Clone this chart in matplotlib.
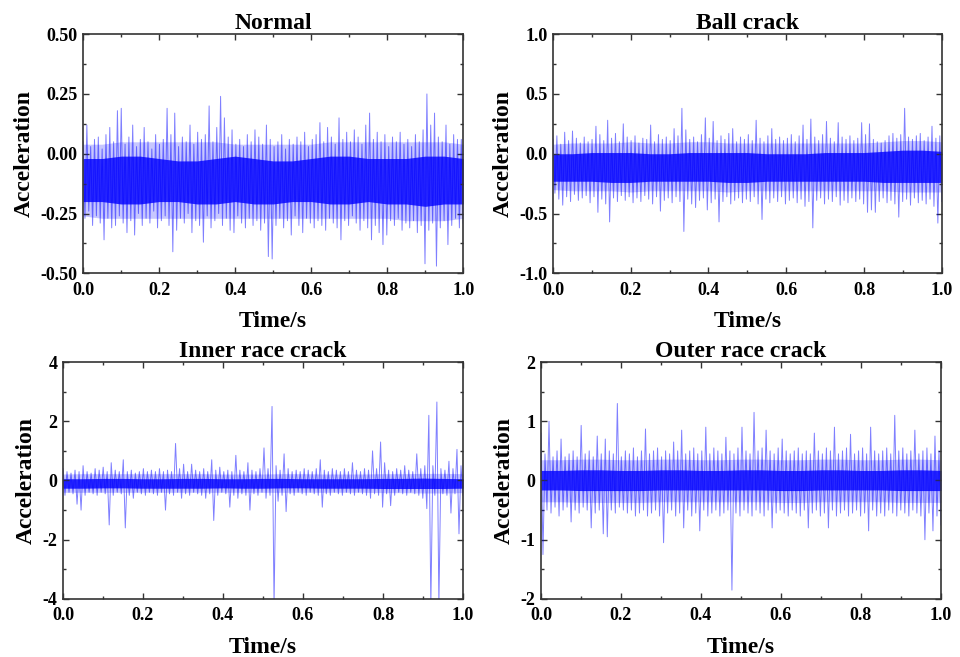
import matplotlib
matplotlib.use("Agg")
import matplotlib.pyplot as plt
import matplotlib.ticker as mticker
import numpy as np

plt.rcParams['font.family'] = ['Liberation Serif', 'DejaVu Serif']
plt.rcParams['font.weight'] = 'bold'
plt.rcParams['axes.unicode_minus'] = False

# ---- data ----
# spike tips every 0.01 s, dense core band and lighter halo every 0.05 s
titles = ["Normal", "Ball crack", "Inner race crack", "Outer race crack"]

normal_peaks = [0.05, 0.12, 0.03, 0.06, 0.07, 0.02, 0.08, 0.11, 0.05, 0.18,
                0.19, 0.04, 0.07, 0.12, 0.03, 0.06, 0.11, 0.05, 0.02, 0.08,
                0.04, 0.06, 0.19, 0.08, 0.17, 0.03, 0.07, 0.05, 0.12, 0.04,
                0.09, 0.06, 0.08, 0.20, 0.05, 0.11, 0.24, 0.15, 0.07, 0.10,
                0.04, 0.06, 0.03, 0.08, 0.05, 0.10, 0.07, 0.04, 0.12, 0.06,
                0.03, 0.05, 0.08, 0.02, 0.06, 0.04, 0.07, 0.05, 0.09, 0.03,
                0.06, 0.08, 0.13, 0.05, 0.11, 0.07, 0.04, 0.15, 0.06, 0.09,
                0.05, 0.10, 0.07, 0.04, 0.12, 0.17, 0.06, 0.09, 0.05, 0.08,
                0.03, 0.07, 0.05, 0.09, 0.04, 0.06, 0.03, 0.08, 0.05, 0.10,
                0.25, 0.12, 0.17, 0.07, 0.05, 0.12, 0.04, 0.08, 0.06, 0.06]
normal_troughs = [-0.27, -0.24, -0.30, -0.26, -0.29, -0.36, -0.27, -0.31, -0.30, -0.26,
                  -0.29, -0.33, -0.28, -0.34, -0.25, -0.30, -0.27, -0.29, -0.24, -0.31,
                  -0.28, -0.26, -0.30, -0.41, -0.32, -0.27, -0.29, -0.25, -0.33, -0.28,
                  -0.30, -0.37, -0.26, -0.31, -0.28, -0.25, -0.30, -0.27, -0.32, -0.33,
                  -0.26, -0.29, -0.31, -0.27, -0.30, -0.28, -0.32, -0.29, -0.43, -0.44,
                  -0.30, -0.27, -0.31, -0.28, -0.34, -0.26, -0.30, -0.33, -0.27, -0.29,
                  -0.31, -0.28, -0.30, -0.32, -0.27, -0.29, -0.31, -0.36, -0.28, -0.30,
                  -0.26, -0.29, -0.32, -0.28, -0.31, -0.36, -0.30, -0.33, -0.38, -0.34,
                  -0.28, -0.30, -0.27, -0.32, -0.29, -0.31, -0.28, -0.33, -0.30, -0.46,
                  -0.32, -0.29, -0.47, -0.31, -0.28, -0.38, -0.30, -0.27, -0.31, -0.29]
normal_core_hi = [-0.02, -0.02, -0.01, -0.01, -0.02, -0.03, -0.03, -0.02, -0.01, -0.02, -0.03,
                  -0.03, -0.02, -0.01, -0.01, -0.02, -0.02, -0.02, -0.01, -0.01, -0.02]
normal_core_lo = [-0.20, -0.20, -0.21, -0.21, -0.20, -0.20, -0.21, -0.21, -0.20, -0.21, -0.21,
                  -0.20, -0.20, -0.21, -0.21, -0.20, -0.21, -0.21, -0.22, -0.21, -0.21]
normal_halo_hi = [0.04, 0.04, 0.05, 0.05, 0.05, 0.05, 0.05, 0.05, 0.04, 0.04, 0.04,
                  0.04, 0.04, 0.05, 0.05, 0.05, 0.05, 0.05, 0.05, 0.05, 0.04]
normal_halo_lo = [-0.26, -0.27, -0.27, -0.27, -0.27, -0.27, -0.27, -0.27, -0.27, -0.27, -0.27,
                  -0.27, -0.27, -0.27, -0.27, -0.27, -0.27, -0.28, -0.28, -0.28, -0.27]

ball_peaks = [0.12, 0.15, 0.08, 0.18, 0.11, 0.19, 0.13, 0.09, 0.14, 0.10,
              0.12, 0.23, 0.16, 0.11, 0.28, 0.13, 0.17, 0.10, 0.25, 0.14,
              0.11, 0.15, 0.09, 0.13, 0.12, 0.24, 0.10, 0.16, 0.12, 0.14,
              0.11, 0.21, 0.15, 0.38, 0.20, 0.12, 0.14, 0.10, 0.16, 0.30,
              0.13, 0.27, 0.11, 0.15, 0.12, 0.17, 0.21, 0.10, 0.14, 0.12,
              0.16, 0.11, 0.28, 0.13, 0.10, 0.15, 0.21, 0.12, 0.14, 0.11,
              0.13, 0.16, 0.10, 0.15, 0.24, 0.12, 0.29, 0.14, 0.11, 0.16,
              0.27, 0.13, 0.10, 0.26, 0.14, 0.12, 0.15, 0.11, 0.13, 0.26,
              0.16, 0.25, 0.12, 0.10, 0.09, 0.11, 0.15, 0.17, 0.13, 0.16,
              0.38, 0.14, 0.12, 0.15, 0.17, 0.11, 0.14, 0.23, 0.13, 0.15]
ball_troughs = [-0.33, -0.38, -0.43, -0.36, -0.40, -0.34, -0.39, -0.37, -0.35, -0.41,
                -0.36, -0.49, -0.38, -0.42, -0.57, -0.37, -0.40, -0.35, -0.39, -0.36,
                -0.41, -0.37, -0.40, -0.35, -0.38, -0.42, -0.36, -0.48, -0.39, -0.37,
                -0.41, -0.36, -0.40, -0.65, -0.38, -0.42, -0.45, -0.39, -0.37, -0.47,
                -0.41, -0.38, -0.57, -0.40, -0.36, -0.42, -0.39, -0.37, -0.41, -0.38,
                -0.40, -0.36, -0.42, -0.55, -0.38, -0.41, -0.37, -0.40, -0.36, -0.42,
                -0.39, -0.37, -0.41, -0.38, -0.44, -0.40, -0.62, -0.39, -0.37, -0.42,
                -0.38, -0.40, -0.36, -0.43, -0.39, -0.41, -0.37, -0.40, -0.38, -0.42,
                -0.49, -0.47, -0.49, -0.40, -0.37, -0.41, -0.39, -0.42, -0.53, -0.40,
                -0.38, -0.43, -0.37, -0.41, -0.39, -0.42, -0.38, -0.44, -0.58, -0.40]
ball_core_hi = [0.00, 0.00, 0.01, 0.01, 0.01, 0.00, 0.00, 0.01, 0.01, 0.01, 0.01,
                0.00, 0.00, 0.00, 0.01, 0.01, 0.01, 0.02, 0.03, 0.03, 0.02]
ball_core_lo = [-0.23, -0.23, -0.23, -0.24, -0.24, -0.23, -0.23, -0.23, -0.23, -0.24, -0.24,
                -0.23, -0.23, -0.23, -0.23, -0.23, -0.23, -0.24, -0.24, -0.24, -0.24]
ball_halo_hi = [0.08, 0.09, 0.09, 0.09, 0.10, 0.09, 0.09, 0.10, 0.10, 0.09, 0.09,
                0.09, 0.09, 0.09, 0.09, 0.09, 0.09, 0.10, 0.11, 0.11, 0.10]
ball_halo_lo = [-0.30, -0.31, -0.31, -0.31, -0.32, -0.31, -0.31, -0.31, -0.31, -0.32, -0.31,
                -0.31, -0.31, -0.31, -0.31, -0.31, -0.31, -0.31, -0.32, -0.32, -0.32]

inner_peaks = [0.40, 0.30, 0.25, 0.35, 0.30, 0.50, 0.30, 0.25, 0.40, 0.35,
               0.45, 0.30, 0.60, 0.35, 0.30, 0.70, 0.30, 0.35, 0.25, 0.30,
               0.40, 0.30, 0.35, 0.30, 0.40, 0.30, 0.35, 0.30, 1.25, 0.40,
               0.55, 0.30, 0.55, 0.35, 0.30, 0.40, 0.30, 0.70, 0.35, 0.45,
               0.30, 0.35, 0.30, 0.85, 0.35, 0.30, 0.60, 0.35, 0.30, 0.40,
               1.10, 0.40, 2.50, 0.50, 0.35, 0.90, 0.40, 0.30, 0.35, 0.30,
               0.40, 0.35, 0.30, 0.40, 0.70, 0.35, 0.30, 0.40, 0.35, 0.30,
               0.40, 0.30, 0.60, 0.35, 0.30, 0.40, 0.35, 1.00, 0.40, 1.30,
               0.60, 0.35, 0.30, 0.40, 0.35, 0.50, 0.35, 0.30, 0.90, 0.40,
               0.50, 2.20, 0.50, 2.65, 0.40, 0.35, 0.65, 0.40, 1.05, 0.50]
inner_troughs = [-0.50, -0.40, -0.45, -0.80, -1.00, -0.50, -0.40, -0.45, -0.50, -0.40,
                 -0.45, -1.50, -0.50, -0.40, -0.45, -1.60, -0.50, -0.60, -0.40, -0.45,
                 -0.50, -0.40, -0.45, -0.50, -0.40, -1.00, -0.45, -0.50, -0.40, -0.60,
                 -0.45, -0.50, -0.40, -0.45, -0.50, -0.60, -0.45, -1.35, -0.50, -0.40,
                 -0.45, -0.90, -0.50, -0.60, -0.45, -0.50, -1.00, -0.45, -0.50, -0.40,
                 -0.60, -0.50, -4.20, -0.70, -0.50, -1.05, -0.45, -0.50, -0.40, -0.45,
                 -0.50, -0.40, -0.45, -0.50, -0.90, -0.45, -0.50, -0.40, -0.45, -0.50,
                 -0.40, -0.45, -0.50, -0.40, -0.45, -0.50, -0.60, -0.45, -0.50, -0.90,
                 -0.45, -0.85, -0.50, -0.40, -0.45, -0.50, -0.40, -0.45, -0.50, -0.60,
                 -0.95, -4.20, -0.50, -4.20, -0.45, -0.50, -1.10, -0.45, -1.80, -0.50]
inner_core_hi = [0.06, 0.06, 0.07, 0.07, 0.06, 0.06, 0.07, 0.07, 0.06, 0.06, 0.07,
                 0.07, 0.06, 0.06, 0.06, 0.06, 0.07, 0.07, 0.08, 0.07, 0.06]
inner_core_lo = [-0.26, -0.26, -0.25, -0.25, -0.26, -0.26, -0.26, -0.26, -0.25, -0.26, -0.26,
                 -0.25, -0.25, -0.26, -0.26, -0.26, -0.27, -0.27, -0.27, -0.27, -0.26]
inner_halo_hi = [0.22, 0.23, 0.23, 0.23, 0.23, 0.23, 0.23, 0.23, 0.22, 0.22, 0.22,
                 0.23, 0.23, 0.22, 0.22, 0.22, 0.23, 0.23, 0.24, 0.24, 0.23]
inner_halo_lo = [-0.40, -0.40, -0.40, -0.40, -0.40, -0.40, -0.40, -0.40, -0.40, -0.40, -0.40,
                 -0.40, -0.40, -0.40, -0.40, -0.40, -0.41, -0.41, -0.42, -0.42, -0.41]

outer_peaks = [0.80, 0.45, 1.00, 0.40, 0.50, 0.70, 0.40, 0.45, 0.50, 0.40,
               0.93, 0.45, 0.50, 0.40, 0.75, 0.45, 0.70, 0.50, 0.45, 1.30,
               0.40, 0.50, 0.45, 0.55, 0.40, 0.50, 0.87, 0.45, 0.50, 0.55,
               0.40, 0.50, 0.45, 0.65, 0.50, 0.85, 0.45, 0.50, 0.55, 0.45,
               0.50, 0.90, 0.45, 0.55, 0.50, 0.45, 0.73, 0.50, 0.45, 0.55,
               0.90, 0.50, 0.45, 1.15, 0.50, 0.55, 0.85, 0.50, 0.45, 0.55,
               0.70, 0.50, 0.45, 0.50, 0.55, 0.45, 0.50, 0.45, 0.80, 0.50,
               0.45, 0.55, 0.50, 0.90, 0.45, 0.50, 0.55, 0.78, 0.45, 0.50,
               0.55, 0.45, 0.90, 0.50, 0.45, 0.50, 0.55, 0.45, 1.10, 0.50,
               0.55, 0.45, 0.50, 0.85, 0.45, 0.50, 0.55, 0.45, 0.75, 0.50]
outer_troughs = [-1.25, -0.50, -0.55, -0.45, -0.60, -0.50, -0.45, -0.70, -0.50, -0.55,
                 -0.45, -0.50, -0.80, -0.55, -0.50, -0.90, -0.95, -0.50, -0.55, -0.45,
                 -0.50, -0.55, -0.50, -0.60, -0.55, -0.50, -0.60, -0.55, -0.50, -0.60,
                 -1.05, -0.55, -0.50, -0.60, -0.55, -0.80, -0.50, -0.60, -0.55, -0.85,
                 -0.50, -0.60, -0.55, -0.50, -0.60, -0.55, -0.50, -1.85, -0.55, -0.60,
                 -0.50, -0.55, -0.60, -0.50, -0.55, -0.60, -0.50, -0.80, -0.55, -0.50,
                 -0.55, -0.60, -0.50, -0.55, -0.60, -0.50, -0.80, -0.55, -0.50, -0.60,
                 -0.55, -0.80, -0.50, -0.60, -0.55, -0.50, -0.60, -0.55, -0.50, -0.60,
                 -0.55, -0.85, -0.50, -0.60, -0.55, -0.60, -0.50, -0.55, -0.60, -0.50,
                 -0.55, -0.60, -0.50, -0.55, -0.60, -1.00, -0.55, -0.85, -0.60, -0.75]
outer_core_hi = [0.17, 0.17, 0.18, 0.18, 0.17, 0.17, 0.18, 0.18, 0.17, 0.17, 0.18,
                 0.18, 0.17, 0.17, 0.18, 0.18, 0.17, 0.17, 0.18, 0.18, 0.17]
outer_core_lo = [-0.16, -0.16, -0.17, -0.17, -0.17, -0.17, -0.16, -0.16, -0.16, -0.16, -0.16,
                 -0.16, -0.17, -0.17, -0.16, -0.16, -0.16, -0.16, -0.17, -0.17, -0.17]
outer_halo_hi = [0.35, 0.35, 0.36, 0.36, 0.35, 0.35, 0.36, 0.36, 0.35, 0.35, 0.36,
                 0.36, 0.35, 0.35, 0.36, 0.36, 0.35, 0.35, 0.36, 0.36, 0.35]
outer_halo_lo = [-0.36, -0.36, -0.37, -0.37, -0.37, -0.37, -0.36, -0.36, -0.36, -0.36, -0.36,
                 -0.36, -0.37, -0.37, -0.36, -0.36, -0.36, -0.36, -0.37, -0.37, -0.37]

y_limits = [(-0.5, 0.5), (-1.0, 1.0), (-4, 4), (-2, 2)]
y_major = [0.25, 0.5, 2, 1]
y_fmt = ["%.2f", "%.1f", "%d", "%d"]

signals = [(normal_peaks, normal_troughs, normal_core_lo, normal_core_hi, normal_halo_lo, normal_halo_hi),
           (ball_peaks, ball_troughs, ball_core_lo, ball_core_hi, ball_halo_lo, ball_halo_hi),
           (inner_peaks, inner_troughs, inner_core_lo, inner_core_hi, inner_halo_lo, inner_halo_hi),
           (outer_peaks, outer_troughs, outer_core_lo, outer_core_hi, outer_halo_lo, outer_halo_hi)]

# axes boxes in figure fractions [left, bottom, width, height]
boxes = [[0.0865, 0.584, 0.396, 0.364],
         [0.576, 0.584, 0.405, 0.364],
         [0.0656, 0.0883, 0.4167, 0.3607],
         [0.5635, 0.0883, 0.4167, 0.3607]]

fig = plt.figure(figsize=(9.6, 6.57), dpi=100)

for k in range(4):
    ax = fig.add_axes(boxes[k])
    peaks, troughs, core_lo, core_hi, halo_lo, halo_hi = signals[k]

    # interleave the spike tips into one trace
    sig = np.empty(2 * len(peaks))
    sig[0::2] = peaks
    sig[1::2] = troughs
    t = np.linspace(0, 1, len(sig))
    tc = np.linspace(0, 1, len(core_lo))

    ax.fill_between(tc, halo_lo, halo_hi, color="blue", alpha=0.22, lw=0)
    ax.fill_between(tc, core_lo, core_hi, color="blue", alpha=0.8, lw=0)
    ax.plot(t, sig, color="blue", lw=0.7, alpha=0.5)

    ax.set_xlim(0, 1)
    ax.set_ylim(*y_limits[k])
    ax.xaxis.set_major_locator(mticker.MultipleLocator(0.2))
    ax.xaxis.set_minor_locator(mticker.MultipleLocator(0.1))
    ax.xaxis.set_major_formatter(mticker.FormatStrFormatter("%.1f"))
    ax.yaxis.set_major_locator(mticker.MultipleLocator(y_major[k]))
    ax.yaxis.set_minor_locator(mticker.MultipleLocator(y_major[k] / 2))
    ax.yaxis.set_major_formatter(mticker.FormatStrFormatter(y_fmt[k]))

    ax.tick_params(which="both", direction="in", top=True, right=True,
                   labelsize=13, color="#333333", width=1.0)
    ax.tick_params(axis="x", which="major", pad=6)
    ax.tick_params(axis="y", which="major", pad=4)
    ax.tick_params(which="major", length=4)
    ax.tick_params(which="minor", length=2.5)
    for sp in ax.spines.values():
        sp.set_color("#333333")
        sp.set_linewidth(1.2)

    ax.set_title(titles[k], fontsize=17, fontweight="bold", pad=3)
    ax.set_xlabel("Time/s", fontsize=17, fontweight="bold", labelpad=9)
    ax.set_ylabel("Acceleration", fontsize=17, fontweight="bold", labelpad=4)

fig.savefig("out.png", dpi=100)
